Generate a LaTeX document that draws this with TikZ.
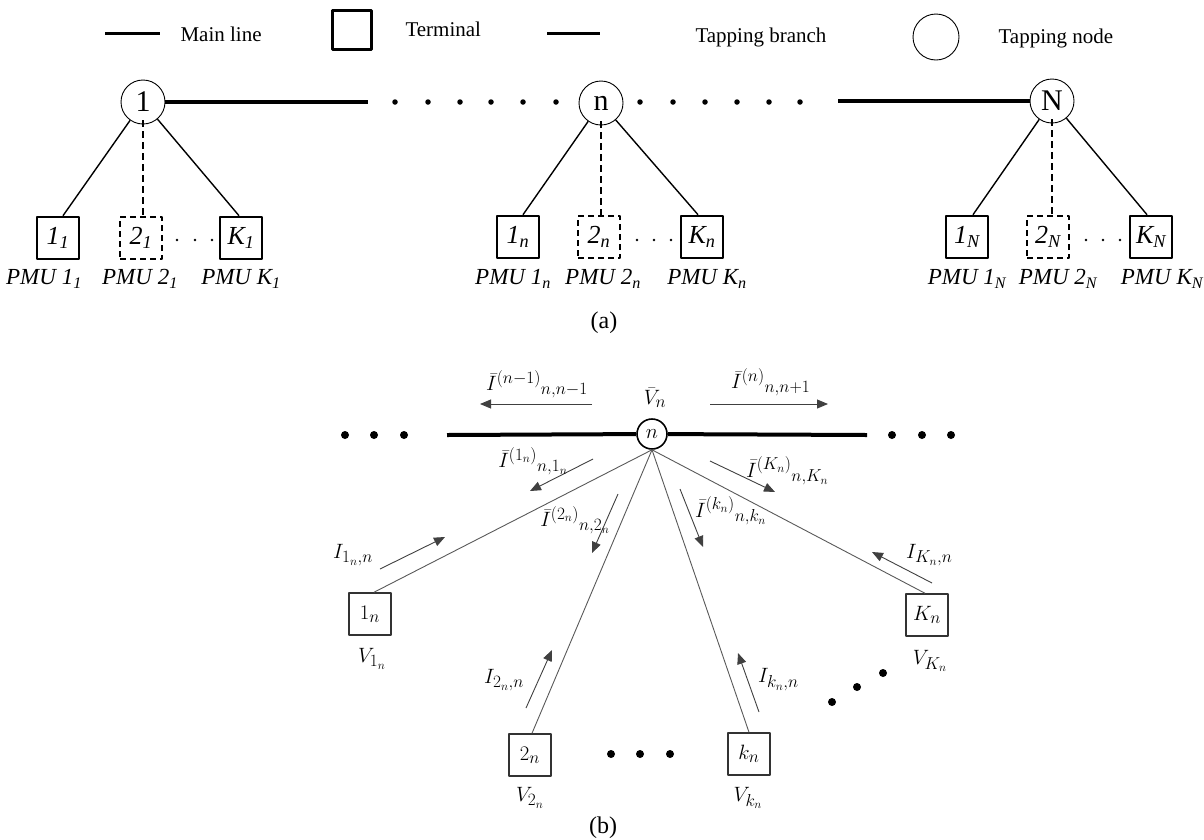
\documentclass[tikz,border=0pt]{standalone}
\usepackage{fontspec}
\setmainfont{Liberation Serif}
\usepackage{graphicx}
\usetikzlibrary{arrows.meta}
\DeclareMathSizes{21}{21}{16}{12.5}
\DeclareMathSizes{22}{22}{16.5}{13}
\newcommand{\tsb}[1]{\textsubscript{#1}}
\begin{document}
\begin{tikzpicture}[x=1pt,y=-1pt, line join=round,
  legline/.style={line width=3pt},
  mline/.style={line width=4pt},
  brl/.style={line width=1.4pt},
  brd/.style={line width=1.4pt, dash pattern=on 7pt off 4pt},
  tap/.style={circle,draw,line width=0.9pt,minimum size=44pt,inner sep=0pt,font=\fontsize{30}{30}\selectfont},
  term/.style={draw,line width=2.6pt,minimum size=42pt,inner sep=0pt,font=\fontsize{26}{26}\selectfont\itshape},
  termd/.style={term,dash pattern=on 6pt off 4pt},
  pmu/.style={font=\fontsize{23}{23}\selectfont\itshape},
  leg/.style={font=\fontsize{21}{21}\selectfont,anchor=base west},
  bigdot/.style={circle,fill,inner sep=0pt,minimum size=5.5pt},
  smdot/.style={circle,fill,inner sep=0pt,minimum size=2.6pt},
  bdot/.style={circle,fill,inner sep=0pt,minimum size=8pt},
  bline/.style={line width=0.9pt,draw=black!65},
  bmain/.style={line width=4pt},
  bnode/.style={circle,draw,line width=1.6pt,minimum size=30pt,inner sep=0pt,font=\fontsize{22}{22}\selectfont},
  bterm/.style={draw=black!80,line width=1.5pt,minimum size=42pt,inner sep=0pt,font=\fontsize{22}{22}\selectfont},
  blab/.style={font=\fontsize{21}{21}\selectfont,inner sep=1pt},
  carr/.style={line width=0.9pt,draw=black!75,-{Triangle[length=11pt,width=9pt]}},
  figcap/.style={font=\fontsize{24}{24}\selectfont}
]
\useasboundingbox (0,0) rectangle (1204,839);

% ---------------- legend ----------------
\coordinate (lgA1) at (105,33); \coordinate (lgA2) at (160,33);
\draw[legline] (lgA1) -- (lgA2);
\node[leg] (lgT1) at (177,41) {Main line};
\node[draw,line width=2.2pt,minimum size=39pt,inner sep=0pt] (lgBox) at (352,30) {};
\node[leg] (lgT2) at (402,36) {Terminal};
\coordinate (lgB1) at (547,33); \coordinate (lgB2) at (600,33);
\draw[legline] (lgB1) -- (lgB2);
\node[leg] (lgT3) at (692,42) {Tapping branch};
\node[circle,draw,line width=0.9pt,minimum size=46pt,inner sep=0pt] (lgC) at (936,37) {};
\node[leg] (lgT4) at (995,43) {Tapping node};

% ---------------- part (a) ----------------
\node[tap] (c1) at (143,102) {1};
\node[tap] (cn) at (601,103) {n};
\node[tap] (cN) at (1052,101) {N};
\coordinate (mA) at (368,102);
\coordinate (mB) at (838,101);
\draw[mline] (c1) -- (mA);
\draw[mline] (mB) -- (cN);
\foreach \x in {395,428,460,491,523,556,640,673,705,737,769,800}
  \node[bigdot] (ad\x) at (\x,102) {};

% group 1
\node[term]  (b11) at (58,238)  {1\tsb{1}};
\node[termd] (b21) at (141,238) {2\tsb{1}};
\node[term]  (bK1) at (241,238) {K\tsb{1}};
% group n
\node[term]  (b1n) at (518,237) {1\tsb{n}};
\node[termd] (b2n) at (599,237) {2\tsb{n}};
\node[term]  (bKn) at (702,237) {K\tsb{n}};
% group N
\node[term]  (b1N) at (967,237)  {1\tsb{N}};
\node[termd] (b2N) at (1048,237) {2\tsb{N}};
\node[term]  (bKN) at (1151,237) {K\tsb{N}};

\draw[brl] (c1) -- ([xshift=5pt]b11.north);
\draw[brl] (c1) -- ([xshift=-2pt]bK1.north);
\draw[brd] ([yshift=4pt]c1.south) -- (c1.south |- b21.north);
\draw[brl] (cn) -- ([xshift=5pt]b1n.north);
\draw[brl] (cn) -- ([xshift=-4pt]bKn.north);
\draw[brd] ([yshift=4pt]cn.south) -- (cn.south |- b2n.north);
\draw[brl] (cN) -- ([xshift=6pt]b1N.north);
\draw[brl] (cN) -- ([xshift=-4pt]bKN.north);
\draw[brd] ([yshift=4pt]cN.south) -- (cN.south |- b2N.north);

\foreach \x in {177,195,212,637,654,671,1086,1103,1120}
  \node[smdot] (sd\x) at (\x,240) {};

\node[pmu] (p11) at (44,279)  {PMU 1\tsb{1}};
\node[pmu] (p21) at (140,279) {PMU 2\tsb{1}};
\node[pmu] (pK1) at (241,279) {PMU K\tsb{1}};
\node[pmu] (p1n) at (513,279) {PMU 1\tsb{n}};
\node[pmu] (p2n) at (603,279) {PMU 2\tsb{n}};
\node[pmu] (pKn) at (707,279) {PMU K\tsb{n}};
\node[pmu] (p1N) at (967,279) {PMU 1\tsb{N}};
\node[pmu] (p2N) at (1058,279) {PMU 2\tsb{N}};
\node[pmu] (pKN) at (1162,279) {PMU K\tsb{N}};

\node[figcap] (capA) at (604,323) {(a)};

% ---------------- part (b) ----------------
\node[bnode] (n) at (652,434) {$n$};
\node[blab] (vn) at (655,398) {$\bar{V}_n$};
\coordinate (ml) at (447,435);
\coordinate (mr) at (867,435);
\draw[bmain] (ml) -- (n);
\draw[bmain] (n) -- (mr);
\foreach \x in {345,374,404,892,922,951}
  \node[bdot] (bd\x) at (\x,435) {};

\node[bterm] (t1) at (370,614) {$1_n$};
\node[bterm] (t2) at (530,755) {$2_n$};
\node[bterm] (tk) at (749,754) {$k_n$};
\node[bterm] (tK) at (927,615) {$K_n$};

\draw[bline] (n.south) -- ([xshift=4pt]t1.north);
\draw[bline] (n.south) -- ([xshift=2pt]t2.north);
\draw[bline] (n.south) -- (tk.north);
\draw[bline] (n.south) -- ([xshift=-2pt]tK.north);

\node[blab] (v1) at (372,659) {$V_{1_n}$};
\node[blab] (v2) at (530,798) {$V_{2_n}$};
\node[blab] (vk) at (748,798) {$V_{k_n}$};
\node[blab] (vK) at (930,661) {$V_{K_n}$};

\foreach \x/\y in {611/754,640/754,670/754,832/702,857/687,883/673}
  \node[bdot] (bx\x) at (\x,\y) {};

% current arrows
\foreach \i/\sx/\sy/\ex/\ey in {1/592/404/480/404, 2/710/404/828/404,
   3/593/459/530/491, 4/380/569/445/537, 5/618/494/592/553,
   6/526/708/552/650, 7/680/489/703/547, 8/759/712/738/653,
   9/710/461/775/492, 10/932/583/872/552}
{
  \coordinate (as\i) at (\sx,\sy);
  \coordinate (ae\i) at (\ex,\ey);
  \draw[carr] (as\i) -- (ae\i);
}

\node[blab,anchor=west] (l1) at (485,384) {$\bar{I}^{(n-1)}{}_{n,n-1}$};
\node[blab,anchor=west] (l2) at (730,382) {$\bar{I}^{(n)}{}_{n,n+1}$};
\node[blab,anchor=east] (l3) at (569,461) {$\bar{I}^{(1_n)}{}_{n,1_n}$};
\node[blab,anchor=west] (l4) at (332,555) {$I_{1_n,n}$};
\node[blab,anchor=east] (l5) at (611,520) {$\bar{I}^{(2_n)}{}_{n,2_n}$};
\node[blab,anchor=west] (l6) at (483,680) {$I_{2_n,n}$};
\node[blab,anchor=west] (l7) at (694,511) {$\bar{I}^{(k_n)}{}_{n,k_n}$};
\node[blab,anchor=west] (l8) at (757,680) {$I_{k_n,n}$};
\node[blab,anchor=west] (l9) at (745,471) {$\bar{I}^{(K_n)}{}_{n,K_n}$};
\node[blab,anchor=west] (l10) at (905,555) {$I_{K_n,n}$};

\node[figcap] (capB) at (603,828) {(b)};
\end{tikzpicture}
\end{document}
